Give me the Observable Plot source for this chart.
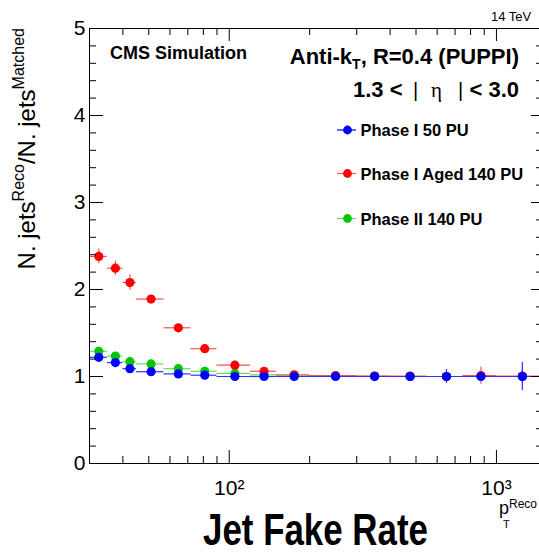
<!DOCTYPE html>
<html><head><meta charset="utf-8">
<script src="https://cdn.jsdelivr.net/npm/d3@7"></script>
<script src="https://cdn.jsdelivr.net/npm/@observablehq/plot@0.6"></script>
<style>body{margin:0;background:#fff} svg{display:block}</style>
</head><body><div id="chart"></div>
<script>
// ---- data ----
const ptCenter = [32.5, 37.5, 42.5, 51, 64.5, 81, 105, 135, 175, 250, 350, 475, 650, 875, 1250];
const binLow   = [30, 35, 40, 45, 57, 72, 90, 120, 150, 200, 300, 400, 550, 750, 1000];
const binHigh  = [35, 40, 45, 57, 72, 90, 120, 150, 200, 300, 400, 550, 750, 1000, 1500];

const phaseI50     = [1.22, 1.16, 1.09, 1.055, 1.03, 1.015, 1.0, 1.0, 1.0, 1.0, 1.0, 1.0, 1.0, 1.0, 1.0];
const phaseI50Err  = [0.03, 0.025, 0.02, 0.02, 0.015, 0.015, 0.01, 0.01, 0.01, 0.01, 0.015, 0.02, 0.08, 0.05, 0.16];
const phaseIAged   = [2.38, 2.245, 2.08, 1.89, 1.56, 1.32, 1.13, 1.06, 1.02, 1.01, 1.005, 1.005, 1.0, 1.01, 1.005];
const phaseIAgedErr= [0.085, 0.08, 0.09, 0.04, 0.03, 0.025, 0.02, 0.015, 0.015, 0.015, 0.015, 0.02, 0.03, 0.1, 0.06];
const phaseII      = [1.29, 1.235, 1.17, 1.145, 1.09, 1.06, 1.035, 1.02, 1.01, 1.01, 1.005, 1.0, 1.0, 1.005, 1.0];
const phaseIIErr   = [0.03, 0.03, 0.03, 0.02, 0.02, 0.02, 0.015, 0.01, 0.01, 0.01, 0.015, 0.02, 0.03, 0.05, 0.08];

const seriesNames  = ["Phase I 50 PU", "Phase I Aged 140 PU", "Phase II 140 PU"];
const seriesColors = ["#0000ff", "#ff0000", "#00c800"];
const seriesBarColors = ["#3030ff", "#ff5050", "#66dd66"];

const yMajorTicks = [0, 1, 2, 3, 4, 5];
const yMinorTicks = [0.2,0.4,0.6,0.8,1.2,1.4,1.6,1.8,2.2,2.4,2.6,2.8,3.2,3.4,3.6,3.8,4.2,4.4,4.6,4.8];
const yTickLabels = ["0", "1", "2", "3", "4", "5"];
const xMajorTicks = [100, 1000];
const xMinorTicks = [40, 50, 60, 70, 80, 90, 200, 300, 400, 500, 600, 700, 800, 900];
const xTickLabels = ["10\u00B2", "10\u00B3"];

// ---- build tables ----
const seriesValues = [phaseI50, phaseIAged, phaseII];
const seriesErrors = [phaseI50Err, phaseIAgedErr, phaseIIErr];
const tables = seriesValues.map((vals, s) => vals.map((v, i) => ({
  x: ptCenter[i], lo: binLow[i], hi: binHigh[i], y: v, err: seriesErrors[s][i]
})));

const drawOrder = [2, 1, 0]; // green, red, blue on top
const dataMarks = [];
for (const s of drawOrder) {
  const t = tables[s];
  dataMarks.push(
    Plot.ruleY(t, {y: "y", x1: "lo", x2: "hi", stroke: seriesBarColors[s], strokeWidth: 1.2}),
    Plot.ruleX(t, {x: "x", y1: d => d.y - d.err, y2: d => d.y + d.err, stroke: seriesBarColors[s], strokeWidth: 1.2}),
    Plot.dot(t, {x: "x", y: "y", r: 4.6, fill: seriesColors[s], stroke: "none"})
  );
}

const FONT = "'Liberation Sans', Arial, Helvetica, sans-serif";
const blank = () => "";

const plot = Plot.plot({
  width: 539,
  height: 560,
  marginLeft: 89,
  marginTop: 28,
  marginBottom: 97,
  marginRight: -4,
  style: {fontFamily: FONT, fontSize: "21px", background: "white", color: "black"},
  x: {type: "log", domain: [30, 1500], axis: null},
  y: {domain: [0, 5], axis: null},
  marks: [
    ...dataMarks,
    Plot.axisY(yMajorTicks, {anchor: "left", tickSize: -14, tickFormat: blank, label: null}),
    Plot.axisY(yMinorTicks, {anchor: "left", tickSize: -7, tickFormat: blank, label: null}),
    Plot.axisY(yMajorTicks, {anchor: "right", tickSize: -13, tickFormat: blank, label: null}),
    Plot.axisY(yMinorTicks, {anchor: "right", tickSize: -8, tickFormat: blank, label: null}),
    Plot.axisY(yMajorTicks, {anchor: "left", tickSize: 0, tickPadding: 4, fontSize: 21, label: null,
      tickFormat: d => yTickLabels[yMajorTicks.indexOf(d)]}),
    Plot.axisX(xMajorTicks, {anchor: "bottom", tickSize: -13, tickFormat: blank, label: null}),
    Plot.axisX(xMinorTicks, {anchor: "bottom", tickSize: -7, tickFormat: blank, label: null}),
    Plot.axisX(xMajorTicks, {anchor: "top", tickSize: -12, tickFormat: blank, label: null}),
    Plot.axisX(xMinorTicks, {anchor: "top", tickSize: -6, tickFormat: blank, label: null}),
    Plot.axisX(xMajorTicks, {anchor: "bottom", tickSize: 0, tickPadding: 17, fontSize: 21, label: null,
      tickFormat: d => xTickLabels[xMajorTicks.indexOf(d)]}),
    Plot.frame({stroke: "black", strokeWidth: 1})
  ]
});

const svg = d3.select(plot);
const g = svg.append("g").attr("font-family", FONT).attr("fill", "black").attr("text-anchor", "start");

// energy label
g.append("text").attr("x", 491).attr("y", 21).attr("font-size", 13).text("14 TeV");

// CMS Simulation
g.append("text").attr("x", 110).attr("y", 59).attr("font-size", 18).attr("font-weight", "bold").text("CMS Simulation");

// Anti-kT label
const ak = g.append("text").attr("x", 519).attr("y", 64).attr("text-anchor", "end")
  .attr("font-size", 22).attr("font-weight", "bold");
ak.append("tspan").text("Anti-k");
ak.append("tspan").attr("font-size", 14).attr("dy", 5).text("T");
ak.append("tspan").attr("dy", -5).text(", R=0.4 (PUPPI)");

// eta range
g.append("text").attr("x", 353).attr("y", 97).attr("font-size", 22).attr("font-weight", "bold").text("1.3 <");
g.append("text").attr("x", 413).attr("y", 97).attr("font-size", 20).text("|");
g.append("text").attr("x", 431).attr("y", 97).attr("font-size", 21).attr("font-family", "'Liberation Serif', 'DejaVu Serif', serif").text("\u03B7");
g.append("text").attr("x", 458).attr("y", 97).attr("font-size", 20).text("|");
g.append("text").attr("x", 519).attr("y", 97).attr("text-anchor", "end").attr("font-size", 22).attr("font-weight", "bold").text("< 3.0");

// legend
const legendY = [130, 173.5, 218.5];
seriesNames.forEach((name, s) => {
  const y = legendY[s];
  g.append("line").attr("x1", 337).attr("x2", 356).attr("y1", y).attr("y2", y)
    .attr("stroke", s === 0 ? seriesColors[s] : seriesBarColors[s]).attr("stroke-width", 1.2);
  g.append("circle").attr("cx", 347.5).attr("cy", y).attr("r", 4.4).attr("fill", seriesColors[s]);
  g.append("text").attr("x", 360.5).attr("y", y + 6).attr("font-size", 16.5).attr("font-weight", "bold").text(name);
});

// y-axis title
const yt = g.append("text").attr("transform", "translate(35,28) rotate(-90)")
  .attr("text-anchor", "end").attr("font-size", 24);
yt.append("tspan").text("N. jets");
yt.append("tspan").attr("font-size", 16).attr("dy", -11).text("Reco");
yt.append("tspan").attr("dy", 11).text("/N. jets");
yt.append("tspan").attr("font-size", 16).attr("dy", -11).text("Matched");

// x-axis title (pT Reco)
g.append("text").attr("x", 499).attr("y", 514).attr("font-size", 18).text("p");
g.append("text").attr("x", 509).attr("y", 508).attr("font-size", 12).text("Reco");
g.append("text").attr("x", 503).attr("y", 528).attr("font-size", 11).text("T");

// big title below
g.append("text").attr("x", 203).attr("y", 545).attr("font-size", 44).attr("font-weight", "bold")
  .attr("textLength", 225).attr("lengthAdjust", "spacingAndGlyphs").text("Jet Fake Rate");

document.getElementById("chart").appendChild(plot);
</script>
</body></html>
